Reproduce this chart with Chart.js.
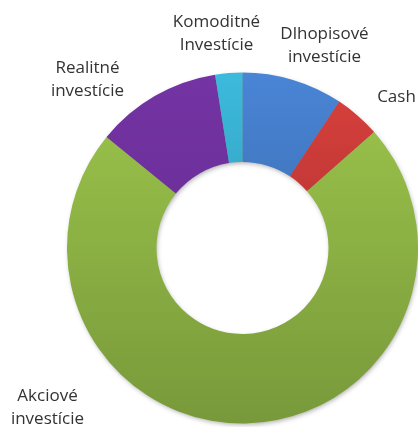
<!DOCTYPE html>
<html>
<head>
<meta charset="utf-8">
<script src="https://cdn.jsdelivr.net/npm/chart.js@4/dist/chart.umd.min.js"></script>
<style>
html,body{margin:0;padding:0;background:#fff;}
#wrap{position:relative;width:418px;height:427px;}
</style>
</head>
<body>
<div id="wrap"><canvas id="c" width="418" height="427"></canvas></div>
<script>
// Data
const categories = [["Dlhopisové","investície"],["Cash"],["Akciové","investície"],["Realitné","investície"],["Komoditné","Investície"]];
const values = [9.3, 4.2, 72.4, 11.6, 2.5];

// Styles
const topColors = ["#4a85d6","#d9413d","#9dc64c","#7434a4","#3cbadc"];
const bottomColors = ["#2c5c96","#9a2a29","#78993a","#60288a","#2a8aa6"];
// label block centers relative to the doughnut centre (px)
const labelOffsets = [[82,-202],[154,-151],[-195,160],[-155,-168],[-26,-214]];

function grad(ctx, chart, i){
  const a = chart.chartArea;
  if(!a) return topColors[i];
  const g = ctx.createLinearGradient(0, a.top, 0, a.bottom);
  g.addColorStop(0, topColors[i]);
  g.addColorStop(1, bottomColors[i]);
  return g;
}

const shadowPlugin = {
  id:'ringShadow',
  beforeDatasetsDraw(chart){
    const meta = chart.getDatasetMeta(0);
    if(!meta.data.length) return;
    const arc = meta.data[0];
    const ctx = chart.ctx;
    ctx.save();
    ctx.shadowColor = 'rgba(0,0,0,0.35)';
    ctx.shadowBlur = 5;
    ctx.shadowOffsetX = 1;
    ctx.shadowOffsetY = 2;
    ctx.fillStyle = '#888';
    ctx.beginPath();
    ctx.arc(arc.x, arc.y, arc.outerRadius - 1, 0, Math.PI*2);
    ctx.arc(arc.x, arc.y, arc.innerRadius + 1, 0, Math.PI*2, true);
    ctx.fill();
    ctx.restore();
  }
};

const labelPlugin = {
  id:'outLabels',
  afterDatasetsDraw(chart){
    const meta = chart.getDatasetMeta(0);
    if(!meta.data.length) return;
    const ctx = chart.ctx;
    const cx = meta.data[0].x, cy = meta.data[0].y;
    ctx.save();
    ctx.font = '17px "Open Sans", sans-serif';
    ctx.fillStyle = '#333333';
    ctx.textAlign = 'center';
    ctx.textBaseline = 'middle';
    const lh = 23;
    categories.forEach((lines, i) => {
      const [dx, dy] = labelOffsets[i];
      const x = cx + dx, y0 = cy + dy - (lines.length-1)*lh/2;
      lines.forEach((t, k) => ctx.fillText(t, x, y0 + k*lh));
    });
    ctx.restore();
  }
};

new Chart(document.getElementById('c'), {
  type:'doughnut',
  data:{
    labels: categories.map(l => l.join(' ')),
    datasets:[{
      data: values,
      backgroundColor: (c) => grad(c.chart.ctx, c.chart, c.dataIndex),
      borderWidth: 0,
      hoverOffset: 0
    }]
  },
  options:{
    responsive:false,
    animation:false,
    cutout:'49%',
    rotation:0,
    layout:{padding:{left:67,right:0,top:72,bottom:3}},
    plugins:{legend:{display:false},tooltip:{enabled:false}}
  },
  plugins:[shadowPlugin, labelPlugin]
});
</script>
</body>
</html>
